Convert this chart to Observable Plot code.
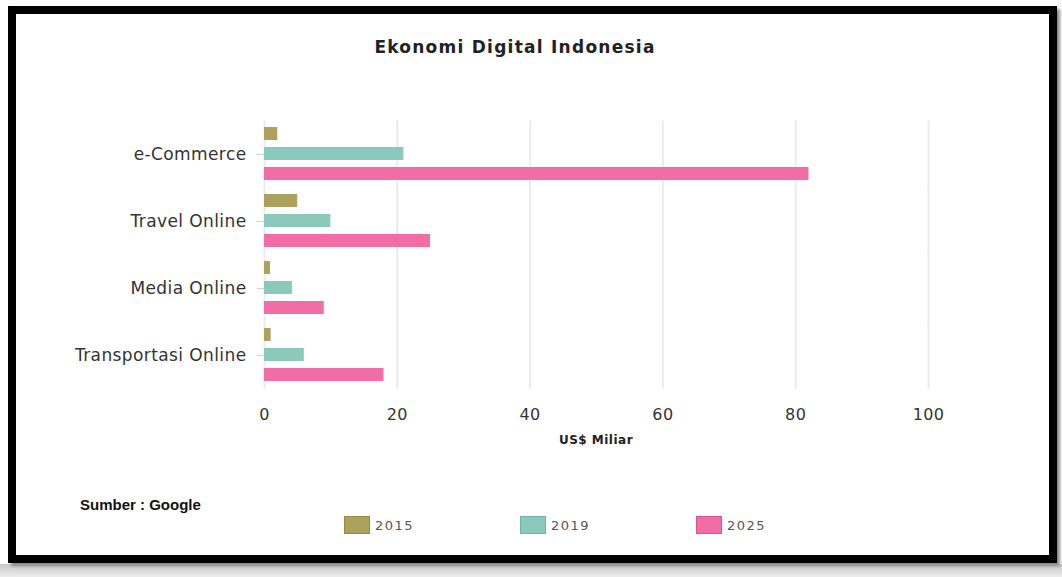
<!DOCTYPE html>
<html>
<head>
<meta charset="utf-8">
<script src="https://cdn.jsdelivr.net/npm/d3@7"></script>
<script src="https://cdn.jsdelivr.net/npm/@observablehq/plot@0.6"></script>
<style>
  html, body { margin: 0; padding: 0; background: #fff; width: 1062px; height: 577px; overflow: hidden; position: relative; }
  #strip { position: absolute; left: 0; top: 564px; width: 1062px; height: 13px; background: linear-gradient(#c8c8c8, #ececec); }
  #frame { position: absolute; left: 8px; top: 6px; width: 1049px; height: 557px; box-sizing: border-box; border: 8px solid #000; background: #fff; box-shadow: 3px 3px 3px #8a8a8a; }
  #chart { position: absolute; left: 0; top: 0; }
  #chart g[aria-label="fy-axis tick label"] { font-size: 17px; }
  .txt { position: absolute; font-family: "DejaVu Sans", sans-serif; color: #222; white-space: nowrap; }
  #title { left: 0; width: 1030px; top: 37px; line-height: 20px; text-align: center; font-weight: bold; font-size: 17px; letter-spacing: 1.25px; }
  #xlabel { left: 496px; width: 200px; top: 432px; line-height: 16px; text-align: center; font-weight: bold; font-size: 12px; letter-spacing: 0.5px; }
  #source { left: 80px; top: 496px; line-height: 18px; font-family: "Liberation Sans", Arial, sans-serif; font-weight: bold; font-size: 15px; color: #111; }
  #legend { position: absolute; left: 344px; top: 516px; display: flex; }
  .item { width: 176px; display: flex; align-items: center; height: 18px; }
  .sw { width: 26px; height: 18px; box-sizing: border-box; }
  .lab { margin-left: 5px; font-family: "DejaVu Sans", sans-serif; font-size: 13px; letter-spacing: 1.5px; color: #555; }
</style>
</head>
<body>
<div id="strip"></div>
<div id="frame"></div>
<div id="chart"></div>
<div id="title" class="txt">Ekonomi Digital Indonesia</div>
<div id="xlabel" class="txt">US$ Miliar</div>
<div id="source" class="txt">Sumber : Google</div>
<div id="legend"></div>
<script>
const categories = ["e-Commerce", "Travel Online", "Media Online", "Transportasi Online"];
const years = ["2015", "2019", "2025"];
const values2015 = [2, 5, 0.9, 1];
const values2019 = [21, 10, 4.2, 6];
const values2025 = [82, 25, 9, 18];
const colors = ["#ada25d", "#8bcabb", "#f26da6"];
const borderColors = ["#968a45", "#6fb3a2", "#e0518d"];
const xTicks = [0, 20, 40, 60, 80, 100];

const seriesValues = [values2015, values2019, values2025];
const rows = [];
categories.forEach((c, i) => {
  years.forEach((y, j) => rows.push({category: c, year: y, value: seriesValues[j][i]}));
});

const plot = Plot.plot({
  width: 1062,
  height: 450,
  marginLeft: 264,
  marginRight: 134,
  marginTop: 120,
  marginBottom: 62,
  style: {background: "transparent", fontFamily: "DejaVu Sans, sans-serif", fontSize: "16px", color: "#333", overflow: "visible", letterSpacing: "0.4px"},
  x: {domain: [0, 100]},
  y: {domain: years, axis: null, paddingInner: 0.33, paddingOuter: 0},
  fy: {domain: categories, paddingInner: 0.2, paddingOuter: 0.1},
  color: {domain: years, range: colors},
  marks: [
    Plot.gridX({ticks: xTicks, stroke: "#ebebeb", strokeOpacity: 1, strokeWidth: 2, insetTop: -6.7, insetBottom: -6.7}),
    Plot.barX(rows, {x: "value", y: "year", fy: "category", fill: "year"}),
    Plot.axisFy({anchor: "left", tickSize: 7, tickPadding: 11, stroke: "#cfcfcf", fill: "#333", label: null}),
    Plot.axisX({ticks: xTicks, tickSize: 0, tickPadding: 26, label: null, fill: "#333"})
  ]
});
document.getElementById("chart").appendChild(plot);

const legend = document.getElementById("legend");
years.forEach((y, i) => {
  const item = document.createElement("div");
  item.className = "item";
  const sw = document.createElement("div");
  sw.className = "sw";
  sw.style.background = colors[i];
  sw.style.border = "1px solid " + borderColors[i];
  const lab = document.createElement("span");
  lab.className = "lab";
  lab.textContent = y;
  item.appendChild(sw);
  item.appendChild(lab);
  legend.appendChild(item);
});
</script>
</body>
</html>
